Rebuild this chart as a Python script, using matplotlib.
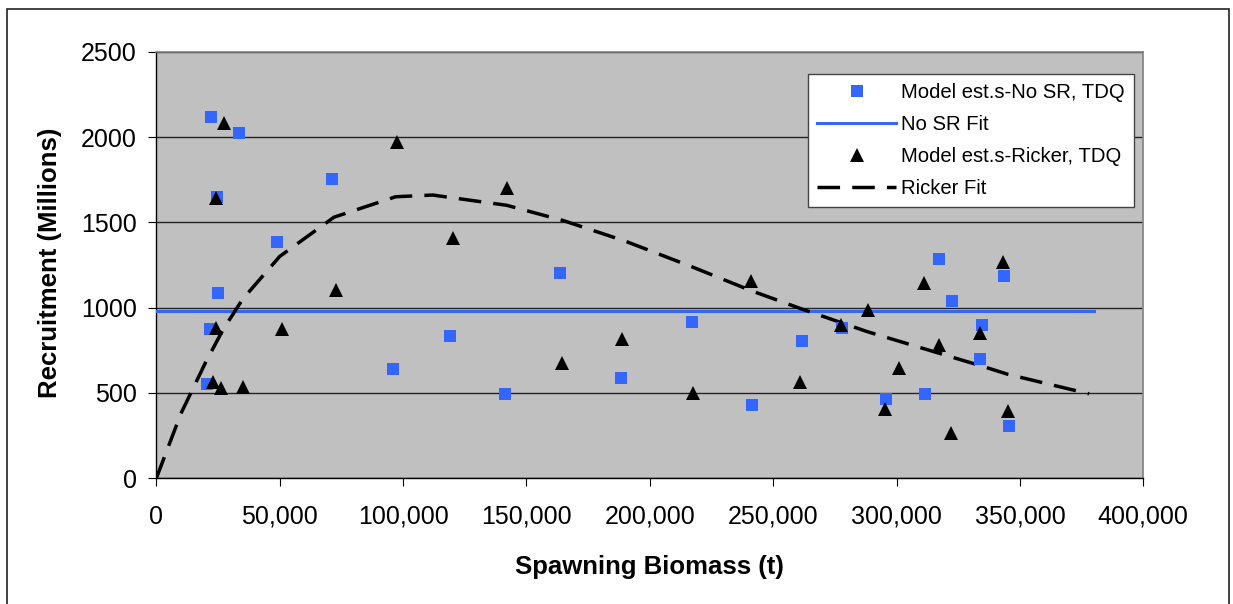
import matplotlib
matplotlib.use("Agg")
import matplotlib.pyplot as plt
from matplotlib.patches import Rectangle
from matplotlib.ticker import FuncFormatter

plt.rcParams['font.family'] = ['Liberation Sans', 'DejaVu Sans']

# Model estimates, no stock-recruitment relationship (blue squares)
nosr_biomass = [22047, 33516, 24600, 71085, 48795, 25127, 21763, 20669, 96049, 119028,
                163608, 141439, 188451, 217225, 241419, 317326, 343547, 322474, 261805,
                277772, 334631, 333942, 295726, 311653, 345452]
nosr_recruits = [2119, 2025, 1647, 1756, 1387, 1084, 873, 551, 642, 834,
                 1205, 494, 586, 918, 428, 1285, 1186, 1037, 806,
                 879, 898, 697, 466, 494, 308]

# Model estimates, Ricker (black triangles)
ricker_biomass = [27437, 97548, 24316, 72705, 24316, 51064, 22857, 26221, 35137, 120365,
                  142250, 164540, 188856, 217630, 241136, 260872, 277488, 288309, 295442,
                  301116, 311247, 317083, 322068, 333821, 343140, 345047]
ricker_recruits = [2080, 1969, 1641, 1103, 883, 873, 566, 531, 537, 1410,
                   1703, 677, 818, 502, 1156, 566, 898, 986, 404,
                   645, 1143, 779, 264, 853, 1269, 394]

# Fitted lines
nosr_fit_x = [0, 380000]
nosr_fit_y = [980, 980]
ricker_fit_x = [0, 10000, 20000, 27000, 35000, 50000, 72000, 97000, 112000, 142000,
                165000, 190000, 217000, 241000, 262000, 288000, 311000, 334000, 345000, 378000]
ricker_fit_y = [0, 380, 680, 870, 1050, 1300, 1530, 1650, 1660, 1600,
                1510, 1390, 1240, 1100, 990, 860, 760, 660, 610, 495]

W, H = 1233, 604
fig = plt.figure(figsize=(W / 100, H / 100), dpi=100)
ax = fig.add_axes([156.3 / W, 1 - 478.3 / H, 987 / W, 426.6 / H])
ax.set_facecolor('#C0C0C0')

blue = '#3366FF'
ax.plot(nosr_biomass, nosr_recruits, 's', color=blue, ms=9, mew=0,
        label='Model est.s-No SR, TDQ', zorder=4)
ax.plot(nosr_fit_x, nosr_fit_y, '-', color=blue, lw=2.2, label='No SR Fit', zorder=3)
ax.plot(ricker_biomass, ricker_recruits, '^', color='black', ms=9.5, mew=0,
        label='Model est.s-Ricker, TDQ', zorder=5)
ax.plot(ricker_fit_x, ricker_fit_y, color='black', lw=2.5, dashes=(6.5, 3.5),
        label='Ricker Fit', zorder=3)

ax.set_xlim(0, 400000)
ax.set_ylim(0, 2500)
ax.set_xticks(range(0, 400001, 50000))
ax.set_yticks(range(0, 2501, 500))
ax.xaxis.set_major_formatter(FuncFormatter(lambda v, p: f'{int(v):,}'))
ax.yaxis.grid(True, color='#222222', lw=1)
ax.set_axisbelow(True)
ax.tick_params(axis='both', direction='out', length=6, width=0.8, labelsize=18)
ax.tick_params(axis='x', pad=13)
ax.tick_params(axis='y', pad=8)

for side in ['left', 'bottom']:
    ax.spines[side].set_color('black')
    ax.spines[side].set_linewidth(1)
for side in ['top', 'right']:
    ax.spines[side].set_color('#808080')
    ax.spines[side].set_linewidth(1.2)

fig.text(649.8 / W, 1 - 567 / H, 'Spawning Biomass (t)', fontsize=18.5,
         fontweight='bold', ha='center', va='center')
fig.text(50 / W, 1 - 262.5 / H, 'Recruitment (Millions)', fontsize=18.5,
         fontweight='bold', ha='center', va='center', rotation=90)

leg = ax.legend(loc='upper left', bbox_to_anchor=(808 / W, 1 - 74 / H),
                bbox_transform=fig.transFigure, borderaxespad=0, fontsize=14.6,
                frameon=True, fancybox=False, framealpha=1, edgecolor='#444444',
                handlelength=3.9, handletextpad=0.25, borderpad=0.45,
                labelspacing=0.64, markerscale=1.0)
leg.get_frame().set_linewidth(1)

fig.patches.append(Rectangle((7 / W, -4 / H), 1222 / W, (H - 9 + 4) / H,
                             transform=fig.transFigure, fill=False,
                             edgecolor='#222222', lw=1.2))

fig.savefig('out.png', dpi=100)
